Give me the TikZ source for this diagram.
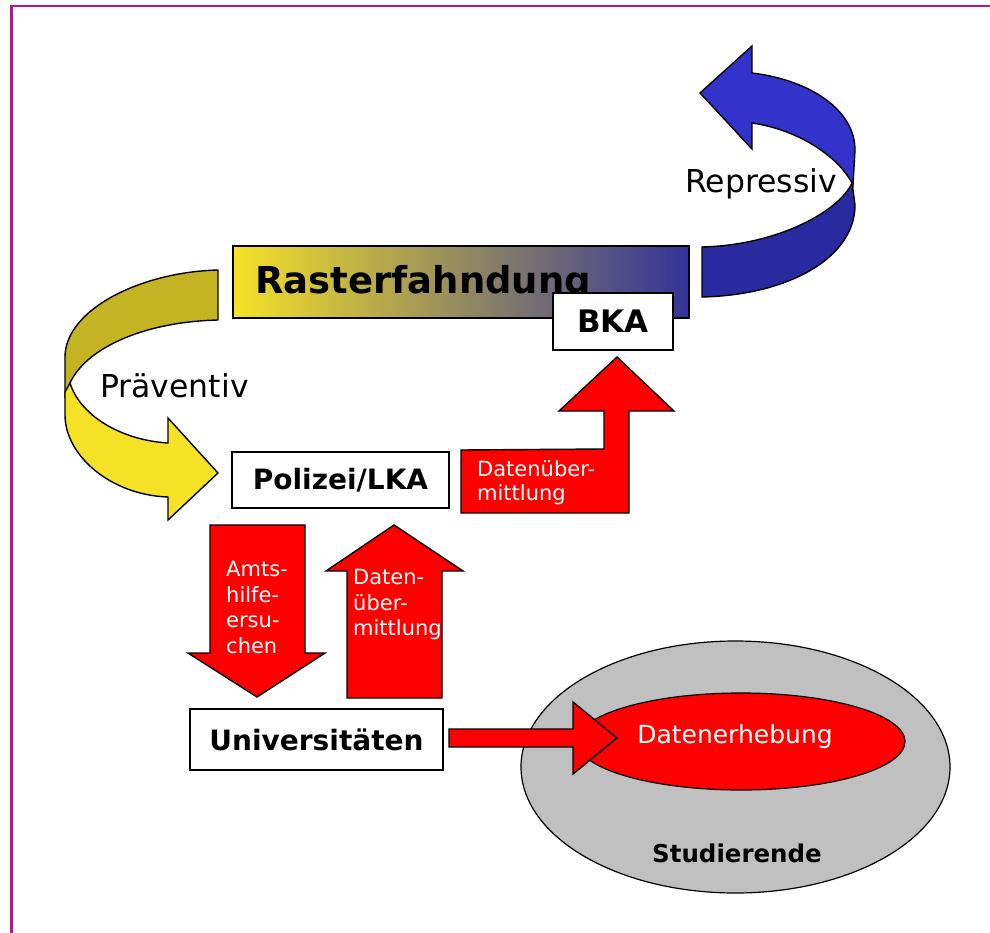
\documentclass[tikz,border=0pt]{standalone}
\usepackage{fontspec}
\setmainfont{DejaVu Sans}
\usetikzlibrary{shapes.geometric}
\definecolor{magb}{RGB}{184,23,140}
\definecolor{blueA}{RGB}{51,51,204}
\definecolor{blueB}{RGB}{42,42,160}
\definecolor{yelA}{RGB}{245,226,38}
\definecolor{oliveA}{RGB}{196,180,36}
\definecolor{bannerblue}{RGB}{51,51,153}
\definecolor{grayE}{RGB}{192,192,192}
\definecolor{redA}{RGB}{255,0,0}
\begin{document}
\begin{tikzpicture}[x=1pt,y=-1pt,
  outl/.style={draw=black,line width=1.4pt,line join=miter},
  boxnode/.style={draw=black,line width=1.4pt,fill=white,inner sep=0pt},
  lbl/.style={inner sep=0pt,anchor=north west,align=left,text=white,font=\fontsize{21}{25.5}\selectfont}]
\useasboundingbox (0,0) rectangle (990,933);
% border
\draw[magb,line width=2.5pt] (11.5,933) -- (11.5,6) -- (990,6);

% blue ribbon (Repressiv)
\filldraw[fill=blueA,outl] (700,93) -- (752,46) -- (752,73) .. controls (810,80) and (855,110) .. (855,150) -- (853,185) .. controls (840,158) and (800,130) .. (752,123) -- (752,149) -- cycle;
\filldraw[fill=blueB,outl] (702,247) .. controls (780,245) and (840,210) .. (852,183) -- (855,205) .. controls (855,257) and (790,295) .. (702,297) -- cycle;
\node[inner sep=0pt,anchor=base west,font=\fontsize{31.5}{37}\selectfont] (rep) at (685,193) {Repressiv};

% yellow ribbon (Praeventiv)
\filldraw[fill=oliveA,outl] (218,270) -- (218,320) .. controls (140,322) and (85,350) .. (70,383) -- (65,395) -- (65,357) .. controls (65,310) and (140,272) .. (218,270) -- cycle;
\filldraw[fill=yelA,outl] (65,392) -- (65,415) .. controls (65,455) and (110,495) .. (168,497) -- (168,520) -- (218,473) -- (168,418) -- (168,443) .. controls (120,440) and (80,415) .. (70,383) -- cycle;
\node[inner sep=0pt,anchor=base west,font=\fontsize{31.5}{37}\selectfont] (prae) at (100,397) {Präventiv};

% banner
\shade[left color=yelA,right color=bannerblue] (233,246) rectangle (689,318);
\draw[outl] (233,246) rectangle (689,318);
\node[inner sep=0pt,anchor=base west,font=\fontsize{37}{44}\selectfont\bfseries] (raster) at (255,293) {Rasterfahndung};

% BKA
\node[boxnode,minimum width=120pt,minimum height=57pt,font=\fontsize{31}{36}\selectfont\bfseries] (bka) at (613,321.5) {BKA};

% red L-arrow to BKA
\filldraw[fill=redA,outl] (461,450) -- (604,449) -- (604,411) -- (559,411) -- (617,357) -- (674,411) -- (629,411) -- (629,513) -- (461,513) -- cycle;
\node[lbl,font=\fontsize{21}{24}\selectfont] (du1) at (477,460) {Datenüber-\\mittlung};

% Polizei
\node[boxnode,minimum width=217pt,minimum height=56pt,font=\fontsize{28}{33}\selectfont\bfseries] (pol) at (340.5,480) {Polizei/LKA};

% down arrow
\filldraw[fill=redA,outl] (210,525) -- (305,525) -- (305,653) -- (325,653) -- (257,697) -- (188,653) -- (210,653) -- cycle;
\node[lbl] (amts) at (226,561) {Amts-\\hilfe-\\ersu-\\chen};

% up arrow
\filldraw[fill=redA,outl] (347,698) -- (347,571) -- (326,571) -- (394,525) -- (463,571) -- (442,571) -- (442,698) -- cycle;
\node[lbl] (du2) at (353,569) {Daten-\\über-\\mittlung};

% Universitaeten
\node[boxnode,minimum width=253pt,minimum height=61pt,font=\fontsize{28}{33}\selectfont\bfseries] (uni) at (316.5,739.5) {Universitäten};

% ellipses
\node[ellipse,draw=black,line width=1.2pt,fill=grayE,minimum width=429pt,minimum height=252pt,inner sep=0pt] (stud) at (735.5,767) {};
\node[ellipse,draw=black,line width=1.2pt,fill=redA,minimum width=328pt,minimum height=97pt,inner sep=0pt] (erh) at (741,741.5) {};
\node[inner sep=0pt,anchor=base,text=white,font=\fontsize{25}{30}\selectfont] (erhtxt) at (735,743) {Datenerhebung};
\node[inner sep=0pt,anchor=base,font=\fontsize{24.5}{29}\selectfont\bfseries] (studtxt) at (737,862) {Studierende};

% right arrow
\filldraw[fill=redA,outl] (449,729) -- (573,729) -- (573,702) -- (617,738) -- (573,774) -- (573,747) -- (449,747) -- cycle;
\end{tikzpicture}
\end{document}
